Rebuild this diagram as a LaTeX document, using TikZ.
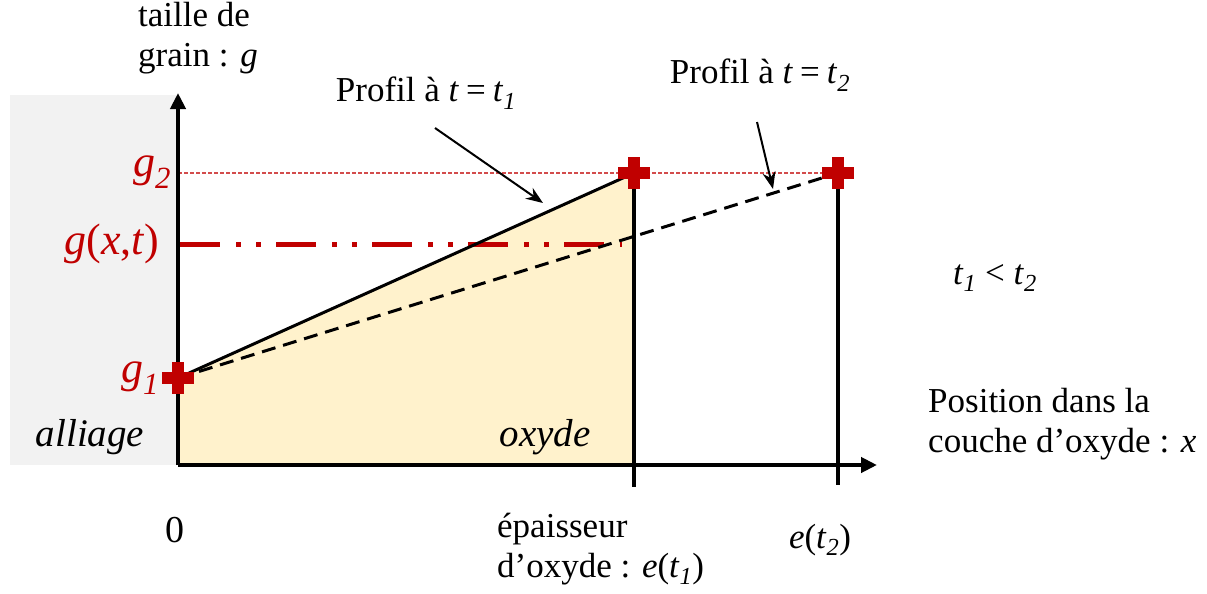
\documentclass[tikz,border=0pt]{standalone}
\usepackage{fontspec}
\setmainfont{Liberation Serif}
\usetikzlibrary{arrows.meta,positioning,calc}
\definecolor{rouge}{HTML}{C00000}
\definecolor{beige}{HTML}{FFF2CC}
\definecolor{gris}{HTML}{F2F2F2}
\newcommand{\ti}[2]{\textit{#1}\textsubscript{\textit{#2}}}
\newcommand{\egal}{\hspace{0.2em}=\hspace{0.2em}}
\tikzset{lbl/.style={inner sep=0pt,font=\fontsize{35}{40}\selectfont,align=left},
  rlbl/.style={lbl,text=rouge,font=\fontsize{44}{48}\selectfont},
  zone/.style={lbl,font=\fontsize{39}{44}\selectfont\itshape},
  axe/.style={line width=4pt,-{Triangle[length=16pt,width=15pt]}},
  arr/.style={line width=2pt,-{Stealth[length=17pt,width=13pt]}},
  croix/.style={rouge,line width=12pt}}

\begin{document}
\begin{tikzpicture}[x=1pt,y=-1pt]
\useasboundingbox (0,0) rectangle (1207,594);
\coordinate (O) at (178,465);
\coordinate (g1pt) at (178,378);
\coordinate (e1pt) at (634,173);
\coordinate (e2pt) at (838,173);
\fill[gris] (10,95) rectangle (O);
\fill[beige] (g1pt) -- (e1pt) -- (634,465) -- (O) -- cycle;
% niveaux
\draw[rouge!70,line width=1.5pt,dash pattern=on 4pt off 2pt] (178,173) -- (e2pt);
\draw[rouge,line width=5pt,dash pattern=on 40pt off 16pt on 5pt off 15pt on 5pt off 15pt] (180,244) -- (622,244);
% profils
\draw[line width=3pt,dash pattern=on 14pt off 8pt] (g1pt) -- (e2pt);
\draw[line width=3pt] (g1pt) -- (e1pt);
\draw[line width=4pt] (e1pt) -- (634,487);
\draw[line width=4pt] (e2pt) -- (838,485);
% axes
\draw[axe] (O) -- (178,93);
\draw[axe] (O) -- (877,465);
\foreach \p in {g1pt,e1pt,e2pt}
  \draw[croix] ($(\p)+(-16,0)$) -- ($(\p)+(16,0)$) ($(\p)+(0,-16)$) -- ($(\p)+(0,16)$);
% textes
\node[lbl,anchor=north west] (taille) at (138,2) {taille de\\grain : \textit{g}};
\node[lbl] (prof1) at (426,93) {Profil à \textit{t}\egal\ti{t}{1}};
\node[lbl] (prof2) at (760,75) {Profil à \textit{t}\egal\ti{t}{2}};
\node[rlbl] (g2) at (152,172) {\ti{g}{2}};
\node[rlbl] (gxt) at (112,244) {\textit{g}(\textit{x},\textit{t})};
\node[rlbl] (g1) at (140,378) {\ti{g}{1}};
\node[zone] (alliage) at (90,437) {alliage};
\node[zone] (oxyde) at (545,437) {oxyde};
\node[lbl,font=\fontsize{38}{40}\selectfont] (zero) at (175,530) {0};
\node[lbl,anchor=west] (epais) at (497,549) {épaisseur\\d’oxyde : \textit{e}(\ti{t}{1})};
\node[lbl] (et2) at (820,540) {\textit{e}(\ti{t}{2})};
\node[lbl,anchor=west] (pos) at (928,424) {Position dans la\\couche d’oxyde : \textit{x}};
\node[lbl] (ineg) at (995,278) {\ti{t}{1} < \ti{t}{2}};
% fleches
\coordinate (a1) at (435,128);
\coordinate (b1) at (543,203);
\coordinate (a2) at (757,122);
\coordinate (b2) at (773,189);
\draw[arr] (a1) -- (b1);
\draw[arr] (a2) -- (b2);
\end{tikzpicture}
\end{document}
